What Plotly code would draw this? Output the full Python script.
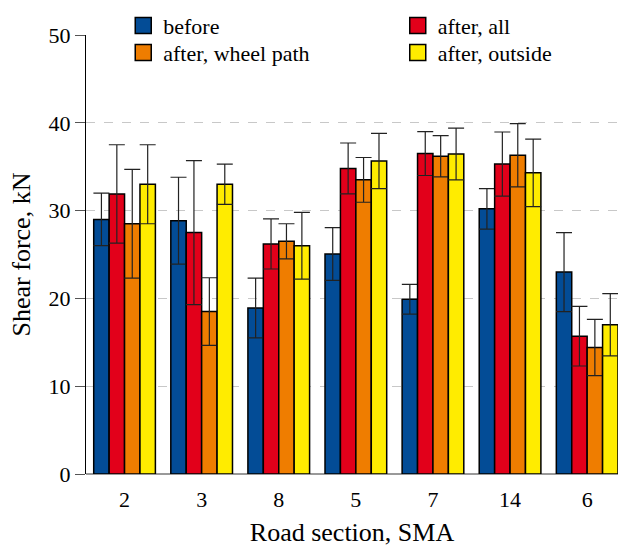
import plotly.graph_objects as go

sections = ["2", "3", "8", "5", "7", "14", "6"]

before = [29.0, 28.85, 18.9, 25.05, 19.9, 30.2, 23.0]
before_sd = [3.0, 4.95, 3.4, 3.0, 1.7, 2.3, 4.5]

after_all = [31.9, 27.5, 26.2, 34.8, 36.5, 35.3, 15.7]
after_all_sd = [5.6, 8.2, 2.85, 2.9, 2.5, 3.65, 3.4]

after_wheel = [28.5, 18.5, 26.5, 33.5, 36.2, 36.3, 14.4]
after_wheel_sd = [6.2, 3.85, 2.0, 2.55, 2.35, 3.6, 3.2]

after_outside = [33.0, 33.0, 26.0, 35.65, 36.45, 34.3, 17.0]
after_outside_sd = [4.5, 2.3, 3.8, 3.15, 2.95, 3.85, 3.55]

# name, values, sd, colour, legend slot
series = [
    ("before", before, before_sd, "#034C96", "legend"),
    ("after, all", after_all, after_all_sd, "#E2001A", "legend2"),
    ("after, wheel path", after_wheel, after_wheel_sd, "#EF7D00", "legend3"),
    ("after, outside", after_outside, after_outside_sd, "#FFEC00", "legend4"),
]

fig = go.Figure()
for name, vals, sd, color, leg in series:
    fig.add_trace(
        go.Bar(
            x=sections,
            y=vals,
            name=name,
            showlegend=False,
            marker=dict(color=color, line=dict(color="black", width=1.5)),
            error_y=dict(type="data", array=sd, visible=True,
                         color="#222222", thickness=1.2, width=8),
        )
    )
    # legend-only entry so the swatch can be a bigger square
    fig.add_trace(
        go.Scatter(
            x=[None],
            y=[None],
            mode="markers",
            name=name,
            legend=leg,
            marker=dict(symbol="square", size=20, color=color,
                        line=dict(color="black", width=1.5)),
        )
    )

font = "Liberation Serif, DejaVu Serif, serif"
legend_style = dict(
    orientation="v",
    xanchor="left",
    yanchor="top",
    bgcolor="rgba(0,0,0,0)",
    font=dict(size=22),
)
row1, row2 = 1.069, 1.0075
fig.update_layout(
    width=618,
    height=547,
    barmode="group",
    bargap=0.2,
    bargroupgap=0,
    plot_bgcolor="white",
    paper_bgcolor="white",
    font=dict(family=font, size=22, color="black"),
    margin=dict(l=86, r=0, t=35, b=73, autoexpand=False),
    legend=dict(x=0.07, y=row1, **legend_style),
    legend2=dict(x=0.586, y=row1, **legend_style),
    legend3=dict(x=0.07, y=row2, **legend_style),
    legend4=dict(x=0.586, y=row2, **legend_style),
    shapes=[
        # white patch behind the legend block, hides the top gridline
        dict(type="rect", xref="paper", yref="paper", layer="below",
             x0=0.045, x1=1.0, y0=0.99, y1=1.07,
             fillcolor="white", line=dict(width=0)),
    ],
    xaxis=dict(
        title=dict(text="Road section, SMA", standoff=50),
        range=[-0.5, 6.4],
        showline=False,
        ticks="",
        ticklabelstandoff=10,
        showgrid=False,
        automargin=False,
    ),
    yaxis=dict(
        title=dict(text="Shear force, kN", standoff=10),
        range=[0, 50],
        dtick=10,
        showline=True,
        linecolor="black",
        linewidth=1,
        ticks="outside",
        ticklen=10,
        tickcolor="#555555",
        showgrid=True,
        gridcolor="#c8c8c8",
        griddash="dash",
        gridwidth=1,
        zeroline=True,
        zerolinecolor="#999999",
        automargin=False,
    ),
)

# drop the page's default body margin so the 618x547 figure fills the window
fig.write_html(
    "out.html",
    config={"displayModeBar": False},
    post_script="document.body.style.margin = '0';",
)
